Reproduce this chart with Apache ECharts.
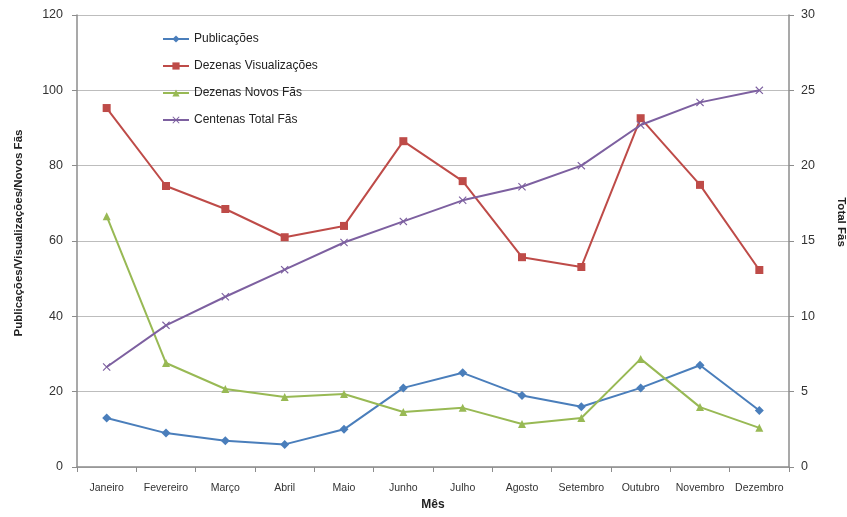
<!DOCTYPE html>
<html>
<head>
<meta charset="utf-8">
<script src="https://cdn.jsdelivr.net/npm/echarts@6/dist/echarts.min.js"></script>
<style>
html,body{margin:0;padding:0;background:#fff;}
#chart{width:847px;height:517px;}
</style>
</head>
<body>
<div id="chart"></div>
<script>
// Monthly page statistics
const months = ['Janeiro','Fevereiro','Março','Abril','Maio','Junho','Julho','Agosto','Setembro','Outubro','Novembro','Dezembro'];
const publicacoes = [13, 9, 7, 6, 10, 21, 25, 19, 16, 21, 27, 15];
const dezenasVisualizacoes = [95.3, 74.6, 68.5, 61, 64, 86.5, 75.9, 55.7, 53.1, 92.6, 74.9, 52.3];
const dezenasNovosFas = [66.6, 27.6, 20.7, 18.6, 19.4, 14.6, 15.7, 11.4, 13, 28.7, 15.9, 10.4];
const centenasTotalFas = [6.64, 9.4, 11.3, 13.1, 14.9, 16.3, 17.7, 18.6, 20, 22.7, 24.2, 25];

const crossPath = 'path://M0,1L1,0L5,4L9,0L10,1L6,5L10,9L9,10L5,6L1,10L0,9L4,5Z';
const font = 'Liberation Sans, Arial, sans-serif';

const chart = echarts.init(document.getElementById('chart'));
chart.setOption({
  backgroundColor: '#ffffff',
  animation: false,
  textStyle: { fontFamily: font },
  grid: { left: 77, right: 58, top: 15, bottom: 50, containLabel: false, outerBoundsMode: 'none' },
  legend: {
    left: 157, top: 28, orient: 'vertical', itemGap: 15,
    itemWidth: 26, itemHeight: 9,
    textStyle: { fontSize: 12, color: '#222', fontFamily: font },
    data: ['Publicações','Dezenas Visualizações','Dezenas Novos Fãs','Centenas Total Fãs']
  },
  xAxis: {
    type: 'category', data: months, boundaryGap: true,
    name: 'Mês', nameLocation: 'middle', nameGap: 32,
    nameTextStyle: { fontSize: 12, fontWeight: 'bold', color: '#222' },
    axisLine: { lineStyle: { color: '#8c8c8c', width: 1.5 } },
    axisTick: { show: true, length: 5, lineStyle: { color: '#8c8c8c' } },
    axisLabel: { fontSize: 10.5, color: '#333', margin: 16, interval: 0 }
  },
  yAxis: [
    {
      type: 'value', min: 0, max: 120, interval: 20,
      name: 'Publicações/Visualizações/Novos Fãs', nameLocation: 'middle', nameGap: 52,
      nameTextStyle: { fontSize: 11.5, fontWeight: 'bold', color: '#222', padding: [0, 0, 0, 16] },
      axisLine: { show: true, lineStyle: { color: '#8c8c8c', width: 1.5 } },
      axisTick: { show: true, length: 5, lineStyle: { color: '#8c8c8c' } },
      axisLabel: { fontSize: 12.5, color: '#333', margin: 14 },
      splitLine: { lineStyle: { color: '#bdbdbd', width: 1.2 } }
    },
    {
      type: 'value', min: 0, max: 30, interval: 5,
      name: 'Total Fãs', nameLocation: 'middle', nameGap: 46, nameRotate: 270,
      nameTextStyle: { fontSize: 11.5, fontWeight: 'bold', color: '#222', padding: [0, 38, 0, 0] },
      axisLine: { show: true, lineStyle: { color: '#8c8c8c', width: 1.5 } },
      axisTick: { show: true, length: 5, lineStyle: { color: '#8c8c8c' } },
      axisLabel: { fontSize: 12.5, color: '#333', margin: 12 },
      splitLine: { show: false }
    }
  ],
  series: [
    {
      name: 'Publicações', type: 'line', yAxisIndex: 0, data: publicacoes,
      symbol: 'diamond', symbolSize: 9,
      lineStyle: { color: '#4A7EBB', width: 2 },
      itemStyle: { color: '#4A7EBB' }
    },
    {
      name: 'Dezenas Visualizações', type: 'line', yAxisIndex: 0, data: dezenasVisualizacoes,
      symbol: 'rect', symbolSize: 8,
      lineStyle: { color: '#BE4B48', width: 2 },
      itemStyle: { color: '#BE4B48' }
    },
    {
      name: 'Dezenas Novos Fãs', type: 'line', yAxisIndex: 0, data: dezenasNovosFas,
      symbol: 'triangle', symbolSize: 8,
      lineStyle: { color: '#98B954', width: 2 },
      itemStyle: { color: '#98B954' }
    },
    {
      name: 'Centenas Total Fãs', type: 'line', yAxisIndex: 1, data: centenasTotalFas,
      symbol: crossPath, symbolSize: 8,
      lineStyle: { color: '#7D60A0', width: 2 },
      itemStyle: { color: '#7D60A0' }
    }
  ]
});
</script>
</body>
</html>
